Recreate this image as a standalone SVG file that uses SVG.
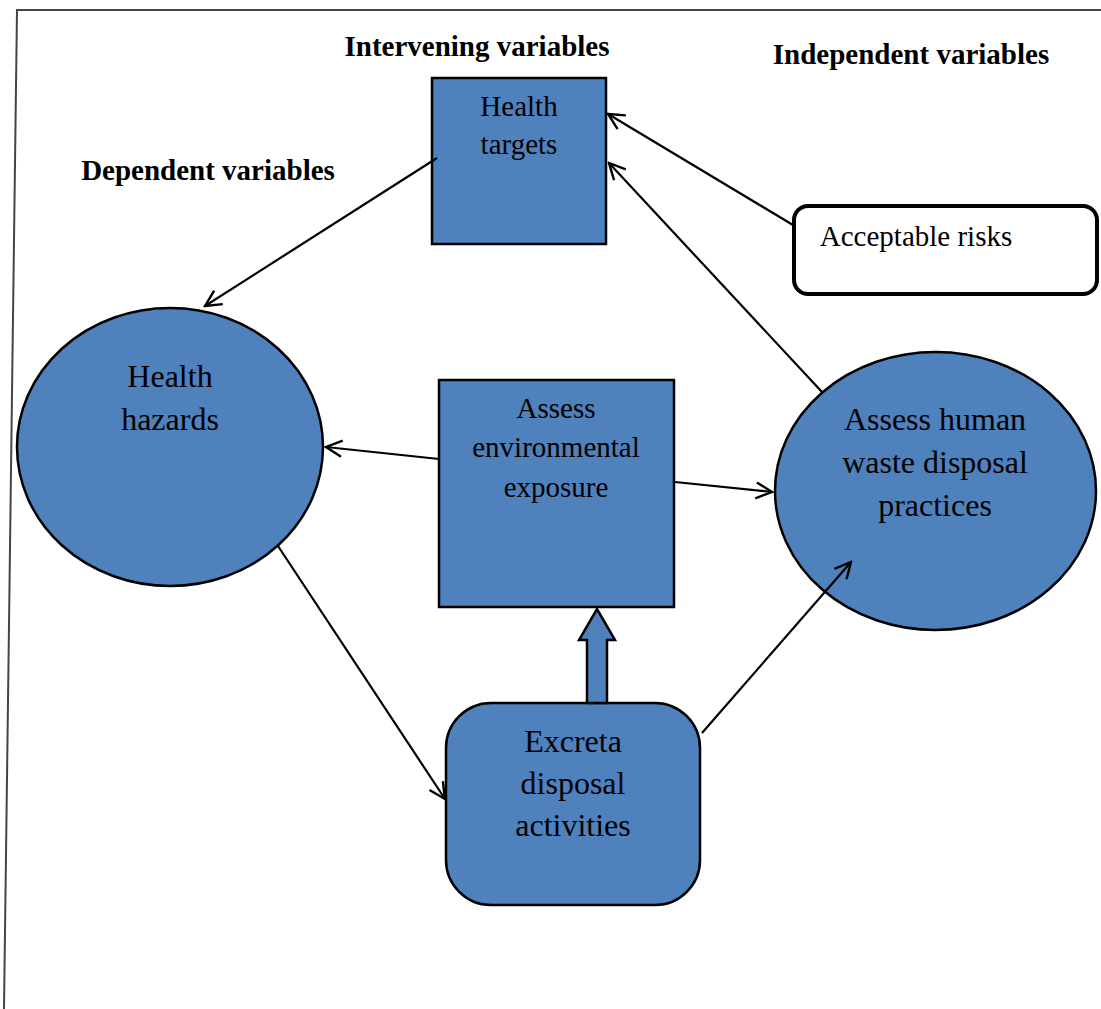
<svg xmlns="http://www.w3.org/2000/svg" width="1101" height="1009" viewBox="0 0 1101 1009">
<defs>
<style>
.node{fill:#4F81BD;stroke:#000;stroke-width:2.5}
.t{font-family:"Liberation Serif","Times New Roman",serif;fill:#000;text-anchor:middle}
.b{font-weight:bold;font-size:29px}
.n24{font-size:29px}
.n27{font-size:32px}
.c{stroke:#000;stroke-width:2.2;fill:none;marker-end:url(#ah)}
</style>
<marker id="ah" viewBox="0 0 20 20" refX="18" refY="10" markerWidth="20" markerHeight="20" markerUnits="userSpaceOnUse" orient="auto">
<path d="M2,2 L18,10 L2,18" fill="none" stroke="#000" stroke-width="2.4"/>
</marker>
</defs>
<rect width="1101" height="1009" fill="#fff"/>
<g id="frame">
<path d="M1101,10 L17,10 L4,1009" fill="none" stroke="#444" stroke-width="2"/>
</g>
<g id="labels">
<text class="t b" x="477" y="56">Intervening variables</text>
<text class="t b" x="911" y="64">Independent variables</text>
<text class="t b" x="208" y="180">Dependent variables</text>
</g>
<g id="health-targets">
<rect class="node" x="432" y="78" width="174" height="166"/>
<text class="t n24" x="519" y="116">Health</text>
<text class="t n24" x="519" y="154">targets</text>
</g>
<g id="acceptable-risks">
<rect x="794" y="206" width="303" height="88" rx="14" fill="#fff" stroke="#000" stroke-width="4"/>
<text class="t n24" x="916" y="246">Acceptable risks</text>
</g>
<g id="health-hazards">
<ellipse class="node" cx="170" cy="447" rx="153" ry="139"/>
<text class="t n27" x="170" y="387">Health</text>
<text class="t n27" x="170" y="430">hazards</text>
</g>
<g id="assess-env">
<rect class="node" x="439" y="380" width="235" height="227"/>
<text class="t n24" x="556" y="418">Assess</text>
<text class="t n24" x="556" y="457">environmental</text>
<text class="t n24" x="556" y="497">exposure</text>
</g>
<g id="assess-human-waste">
<ellipse class="node" cx="935.5" cy="491" rx="160.5" ry="139"/>
<text class="t n27" x="935" y="430">Assess human</text>
<text class="t n27" x="935" y="473">waste disposal</text>
<text class="t n27" x="935" y="516">practices</text>
</g>
<g id="excreta">
<rect class="node" x="446" y="703" width="254" height="202" rx="45"/>
<text class="t n27" x="573" y="752">Excreta</text>
<text class="t n27" x="573" y="794">disposal</text>
<text class="t n27" x="573" y="836">activities</text>
</g>
<g id="connectors">
<line class="c" x1="437" y1="158" x2="205" y2="306"/>
<line class="c" x1="793" y1="225" x2="608" y2="114"/>
<line class="c" x1="822" y1="392" x2="609" y2="163"/>
<line class="c" x1="439" y1="459" x2="326" y2="447"/>
<line class="c" x1="675" y1="482" x2="772" y2="492"/>
<line class="c" x1="278" y1="546" x2="445" y2="799"/>
<line class="c" x1="702" y1="733" x2="851" y2="562"/>
<path id="block-arrow" d="M587,703 L587,640 L579,640 L597,609 L615,640 L607,640 L607,703 Z" fill="#4F81BD" stroke="#000" stroke-width="2.5"/>
</g>
</svg>
